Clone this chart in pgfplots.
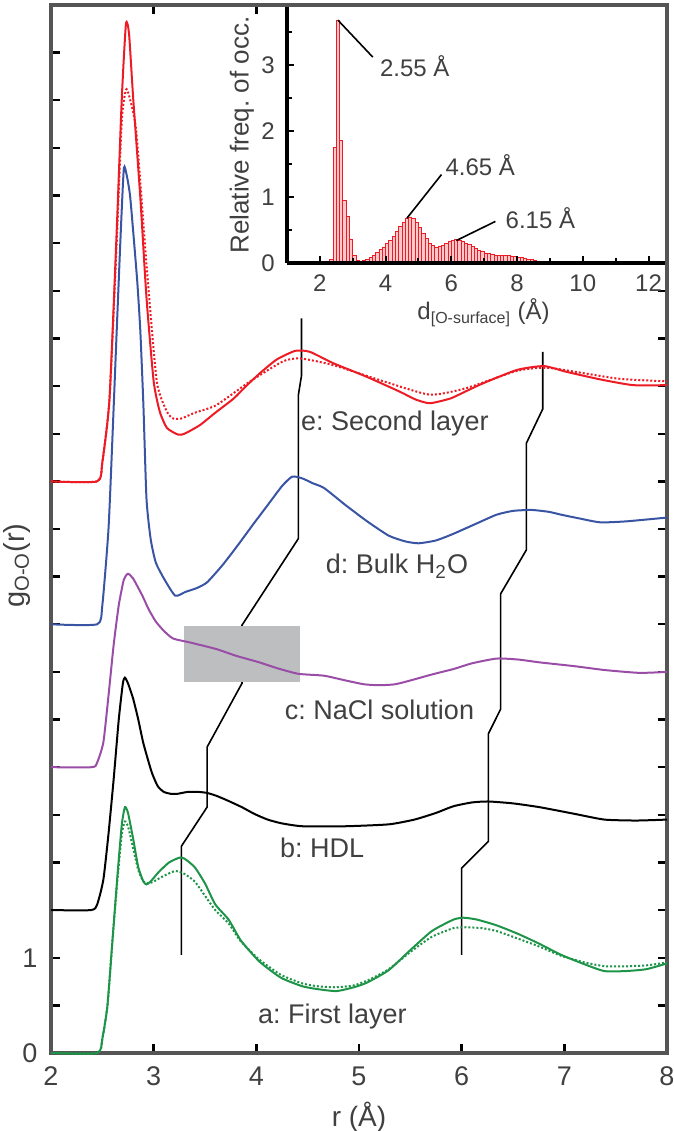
\documentclass[border=0pt]{standalone}
\usepackage{pgfplots}
\pgfplotsset{compat=1.18}
\usepackage{fontspec}
\setmainfont{Liberation Sans}
\frenchspacing
\definecolor{txt}{HTML}{404040}
\definecolor{framec}{HTML}{555555}
\definecolor{cred}{HTML}{ED1C24}
\definecolor{cgreen}{HTML}{1E9448}
\definecolor{cblue}{HTML}{3A54A4}
\definecolor{cpurple}{HTML}{9A4DA6}
\definecolor{boxgray}{HTML}{BCBEC0}
\definecolor{barfill}{HTML}{F8C8CB}
\begin{document}
\begin{tikzpicture}
\useasboundingbox (-25.5pt,-39pt) rectangle (311.5pt,526.5pt);
\begin{axis}[
  at={(0,0)}, anchor=south west,
  scale only axis, width=308pt, height=524pt,
  xmin=2, xmax=8, ymin=0, ymax=11,
  xtick={2,...,8}, ytick={0,0.5,...,10.5}, yticklabels={0,,1},
  tick align=inside, major tick length=4.3pt,
  tick style={black, line width=1.2pt},
  axis line style={framec, line width=2pt},
  /pgf/number format/assume math mode=true,
  ticklabel style={font=\fontsize{13.5}{15}\selectfont, text=txt},
  xticklabel style={anchor=center, yshift=-11.5pt},
  yticklabel style={anchor=center, xshift=-10.5pt},
  xlabel={r (Å)}, ylabel={g\textsubscript{O-O}(r)},
  every axis x label/.style={at={(axis description cs:0.5,-0.0611)}, anchor=center, font=\fontsize{14}{16}\selectfont, text=txt},
  every axis y label/.style={at={(axis description cs:-0.0552,0.465)}, anchor=center, rotate=90, font=\fontsize{14.5}{16}\selectfont, text=txt},
  clip=false,
  every axis plot/.append style={smooth, tension=0.35},
]
% connector lines
\addplot[black, line width=0.8pt, sharp plot] coordinates {(3.27,1.03)(3.27,2.17)(3.52,2.58)(3.52,3.21)(3.86,3.88)(3.86,4.49)(4.41,5.40)(4.41,6.91)(4.44,7.11)(4.44,7.71)};
\addplot[black, line width=0.8pt, sharp plot] coordinates {(6.0,1.03)(6.0,1.94)(6.26,2.22)(6.26,3.35)(6.38,3.61)(6.38,4.82)(6.63,5.28)(6.63,6.40)(6.79,6.76)(6.79,7.36)};
\fill[boxgray] (axis cs:3.30,3.89) rectangle (axis cs:4.43,4.48);
% a: first layer (dotted)
\addplot[cgreen, line width=1pt, densely dotted] coordinates {
(2.0,0)(2.45,0)(2.5,0.15)(2.55,0.5)(2.6,1.2)(2.65,1.85)(2.69,2.3)(2.72,2.43)(2.75,2.38)(2.8,2.15)(2.85,1.92)(2.9,1.8)(2.95,1.78)(3.0,1.8)(3.1,1.86)(3.21,1.91)(3.3,1.88)(3.4,1.80)(3.5,1.65)(3.6,1.50)(3.73,1.36)(3.85,1.17)(4.03,0.98)(4.24,0.82)(4.45,0.73)(4.6,0.70)(4.78,0.69)(4.95,0.71)(5.1,0.77)(5.29,0.88)(5.5,1.06)(5.71,1.22)(5.92,1.31)(6.05,1.32)(6.2,1.31)(6.34,1.28)(6.55,1.20)(6.75,1.12)(6.97,1.02)(7.2,0.95)(7.4,0.91)(7.6,0.91)(7.8,0.92)(8.0,0.95)};
\addplot[cgreen, line width=1pt] coordinates {
(2.0,0)(2.45,0)(2.5,0.15)(2.55,0.5)(2.6,1.2)(2.65,1.9)(2.69,2.4)(2.72,2.58)(2.75,2.52)(2.8,2.25)(2.85,1.95)(2.9,1.8)(2.93,1.77)(2.97,1.8)(3.05,1.9)(3.15,2.0)(3.25,2.05)(3.3,2.04)(3.4,1.95)(3.5,1.78)(3.6,1.56)(3.73,1.40)(3.85,1.18)(4.03,0.96)(4.24,0.79)(4.45,0.70)(4.6,0.67)(4.78,0.65)(4.95,0.69)(5.08,0.74)(5.29,0.87)(5.5,1.08)(5.71,1.28)(5.92,1.40)(6.02,1.42)(6.15,1.40)(6.34,1.34)(6.55,1.25)(6.75,1.15)(6.97,1.03)(7.2,0.93)(7.39,0.86)(7.6,0.86)(7.8,0.88)(8.0,0.94)};
% b: HDL
\addplot[black, line width=1pt] coordinates {
(2.0,1.5)(2.39,1.5)(2.45,1.56)(2.51,1.82)(2.56,2.3)(2.61,2.87)(2.66,3.5)(2.7,3.88)(2.72,3.94)(2.75,3.88)(2.8,3.72)(2.85,3.5)(2.9,3.25)(2.98,2.95)(3.04,2.8)(3.10,2.74)(3.17,2.72)(3.23,2.72)(3.33,2.74)(3.44,2.74)(3.52,2.73)(3.61,2.70)(3.72,2.65)(3.86,2.58)(3.98,2.51)(4.11,2.45)(4.25,2.41)(4.45,2.38)(4.87,2.38)(5.29,2.40)(5.54,2.45)(5.75,2.52)(5.92,2.59)(6.1,2.63)(6.26,2.64)(6.5,2.62)(6.76,2.58)(7.1,2.51)(7.39,2.45)(7.7,2.44)(8.0,2.45)};
% c: NaCl
\addplot[cpurple, line width=1pt] coordinates {
(2.0,3.0)(2.4,3.0)(2.45,3.05)(2.51,3.26)(2.56,3.75)(2.61,4.28)(2.66,4.7)(2.71,4.97)(2.75,5.03)(2.8,4.98)(2.89,4.80)(2.95,4.66)(3.02,4.53)(3.1,4.43)(3.19,4.35)(3.35,4.31)(3.61,4.24)(3.8,4.17)(4.03,4.10)(4.2,4.04)(4.41,3.98)(4.66,3.96)(4.87,3.91)(5.05,3.87)(5.20,3.86)(5.35,3.87)(5.50,3.91)(5.7,3.97)(5.92,4.03)(6.1,4.09)(6.34,4.14)(6.55,4.13)(6.76,4.10)(7.1,4.06)(7.39,4.02)(7.73,3.99)(8.0,4.0)};
% d: bulk
\addplot[cblue, line width=1pt] coordinates {
(2.0,4.5)(2.45,4.5)(2.5,4.7)(2.56,5.5)(2.6,6.5)(2.64,7.58)(2.68,8.63)(2.71,9.29)(2.74,9.2)(2.77,9.0)(2.80,8.63)(2.84,8.1)(2.87,7.58)(2.90,6.8)(2.93,5.82)(2.97,5.4)(3.02,5.15)(3.10,4.98)(3.21,4.80)(3.31,4.84)(3.42,4.88)(3.52,4.94)(3.67,5.12)(3.82,5.33)(3.97,5.55)(4.11,5.75)(4.25,5.95)(4.35,6.05)(4.45,6.03)(4.55,5.98)(4.66,5.93)(4.87,5.75)(5.08,5.58)(5.29,5.43)(5.45,5.37)(5.58,5.35)(5.75,5.38)(5.92,5.45)(6.15,5.56)(6.34,5.65)(6.5,5.69)(6.68,5.70)(6.85,5.68)(6.97,5.65)(7.15,5.61)(7.35,5.57)(7.6,5.58)(8.0,5.62)};
% e: second layer
\addplot[cred, line width=1pt, densely dotted] coordinates {
(2.0,6.0)(2.45,6.0)(2.5,6.2)(2.57,6.87)(2.64,8.5)(2.69,9.8)(2.73,10.11)(2.76,10.05)(2.83,9.68)(2.93,8.28)(3.03,7.05)(3.13,6.73)(3.19,6.66)(3.27,6.66)(3.4,6.72)(3.61,6.80)(3.94,7.05)(4.26,7.26)(4.43,7.29)(4.75,7.22)(5.24,7.05)(5.69,6.91)(6.05,6.98)(6.54,7.16)(6.86,7.19)(7.51,7.08)(8.0,7.05)};
\addplot[cred, line width=1pt] coordinates {
(2.0,6.0)(2.45,6.0)(2.5,6.2)(2.57,6.87)(2.64,8.63)(2.69,10.03)(2.73,10.80)(2.76,10.7)(2.80,10.03)(2.87,8.98)(2.93,7.93)(3.0,7.05)(3.06,6.73)(3.13,6.56)(3.24,6.49)(3.3,6.5)(3.45,6.59)(3.6,6.72)(3.78,6.87)(3.9,7.0)(4.04,7.14)(4.20,7.28)(4.38,7.37)(4.52,7.36)(4.75,7.24)(5.07,7.10)(5.40,6.94)(5.55,6.86)(5.69,6.82)(5.89,6.87)(6.05,6.95)(6.21,7.03)(6.54,7.17)(6.80,7.21)(7.02,7.15)(7.35,7.07)(7.67,7.01)(8.0,7.01)};
% labels
\begin{scope}[every node/.style={font=\fontsize{13.5}{15}\selectfont, text=txt, anchor=center}]
\node at (axis cs:5.35,6.61) {e: Second layer};
\node at (axis cs:5.37,5.11) {d: Bulk H\textsubscript{2}O};
\node at (axis cs:5.20,3.60) {c: NaCl solution};
\node at (axis cs:4.64,2.15) {b: HDL};
\node at (axis cs:4.74,0.38) {a: First layer};
\end{scope}
\end{axis}
% inset
\begin{axis}[
  at={(118pt,395pt)}, anchor=south west,
  scale only axis, width=189pt, height=128pt,
  xmin=1, xmax=12.5, ymin=0, ymax=3.88,
  axis x line=bottom, axis y line=left,
  axis line style={-, black, line width=2pt},
  axis background/.style={fill=white},
  axis on top,
  xtick={2,4,...,12}, minor xtick={3,5,...,11},
  ytick={0,1,2,3}, minor ytick={0.5,1.5,2.5,3.5},
  tick align=inside, major tick length=3.5pt, minor tick length=2.5pt,
  tick style={black, line width=1pt},
  /pgf/number format/assume math mode=true,
  ticklabel style={font=\fontsize{12}{14}\selectfont, text=txt},
  xticklabel style={anchor=center, yshift=-10pt},
  yticklabel style={anchor=center, xshift=-9.5pt},
  xlabel={d\textsubscript{[O-surface]} (Å)}, ylabel={Relative freq. of occ.},
  every axis x label/.style={at={(axis description cs:0.52,-0.195)}, anchor=center, font=\fontsize{12}{14}\selectfont, text=txt},
  every axis y label/.style={at={(axis description cs:-0.119,0.5)}, anchor=center, rotate=90, font=\fontsize{13}{15}\selectfont, text=txt},
]
\addplot[ybar interval, fill=barfill, draw=cred, line width=0.5pt] coordinates {
(2.3,0.06)(2.4,1.75)(2.5,3.68)(2.6,1.85)(2.7,0.95)(2.8,0.70)(2.9,0.35)(3.0,0.12)(3.1,0.04)(3.2,0.03)(3.3,0.04)(3.4,0.06)(3.5,0.09)(3.6,0.12)(3.7,0.16)(3.8,0.20)(3.9,0.24)(4.0,0.29)(4.1,0.34)(4.2,0.40)(4.3,0.47)(4.4,0.55)(4.5,0.62)(4.6,0.67)(4.7,0.69)(4.8,0.67)(4.9,0.62)(5.0,0.54)(5.1,0.45)(5.2,0.37)(5.3,0.30)(5.4,0.26)(5.5,0.24)(5.6,0.25)(5.7,0.27)(5.8,0.30)(5.9,0.32)(6.0,0.34)(6.1,0.35)(6.2,0.34)(6.3,0.32)(6.4,0.30)(6.5,0.28)(6.6,0.25)(6.7,0.22)(6.8,0.19)(6.9,0.17)(7.0,0.15)(7.1,0.14)(7.2,0.13)(7.3,0.12)(7.4,0.12)(7.5,0.12)(7.6,0.11)(7.7,0.11)(7.8,0.10)(7.9,0.10)(8.0,0.09)(8.1,0.08)(8.2,0.07)(8.3,0.06)(8.4,0.05)(8.5,0.04)(8.6,0.03)(8.7,0.02)(8.8,0.015)(8.9,0.01)(9.0,0.005)(9.5,0)};
\draw[black, line width=0.8pt] (axis cs:2.55,3.68) -- (axis cs:3.61,3.12);
\draw[black, line width=0.8pt] (axis cs:4.65,0.68) -- (axis cs:5.70,1.34);
\draw[black, line width=0.8pt] (axis cs:6.15,0.34) -- (axis cs:7.34,0.63);
\begin{scope}[every node/.style={font=\fontsize{12}{14}\selectfont, text=txt, anchor=west, inner sep=0pt}]
\node at (axis cs:3.82,2.98) {2.55 Å};
\node at (axis cs:5.81,1.49) {4.65 Å};
\node at (axis cs:7.64,0.68) {6.15 Å};
\end{scope}
\end{axis}
\end{tikzpicture}
\end{document}
